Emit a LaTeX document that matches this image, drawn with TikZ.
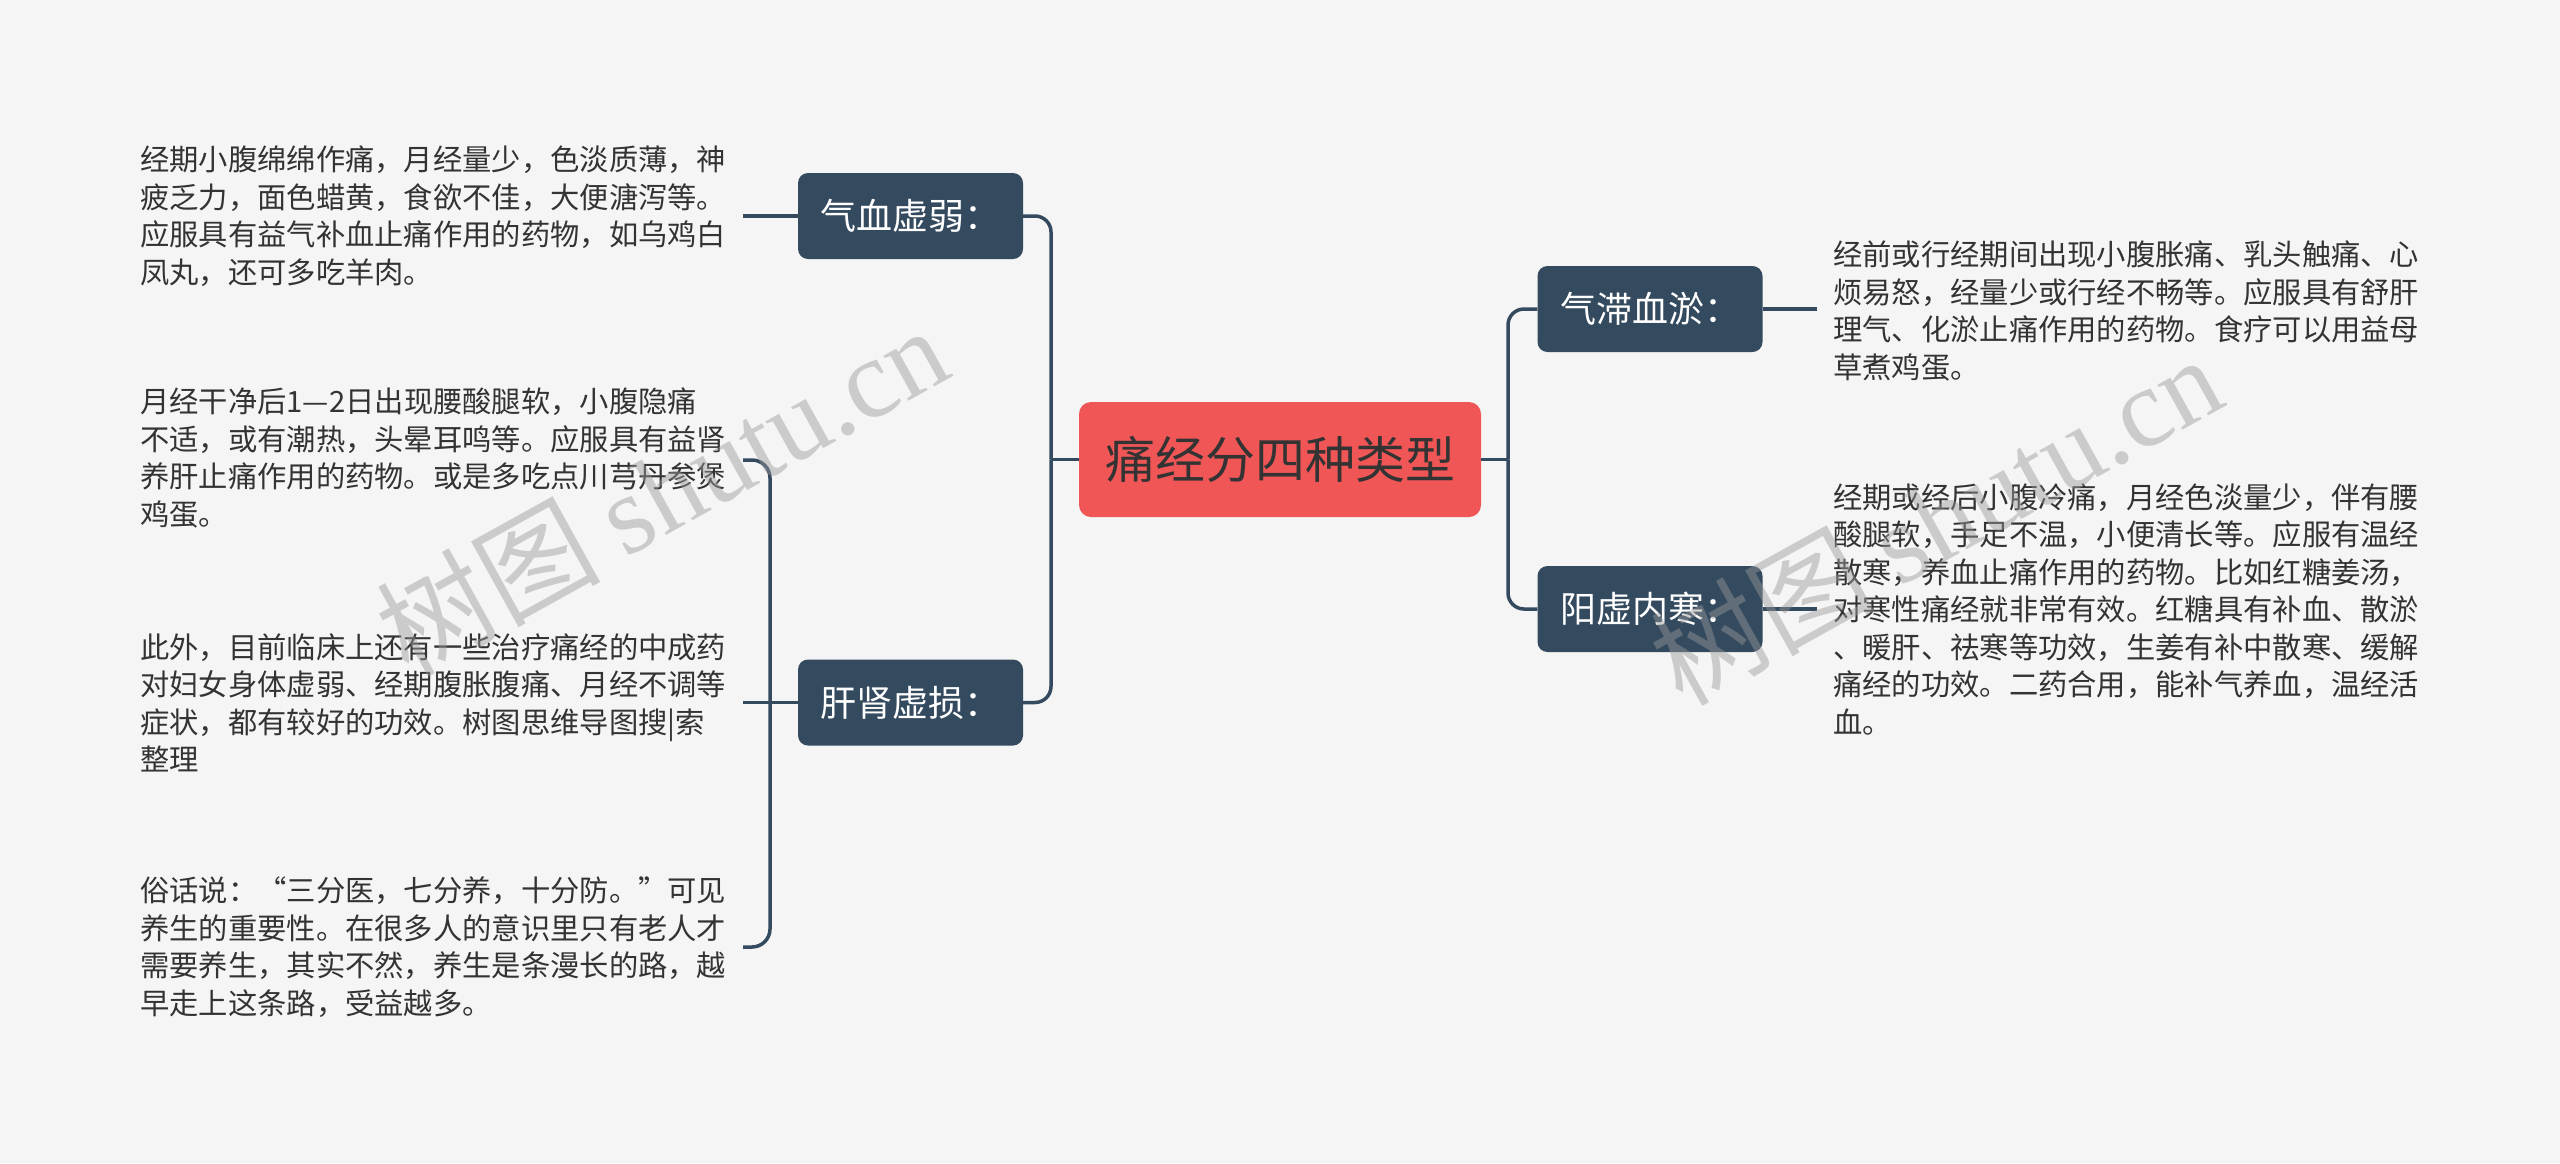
\documentclass[tikz,border=0pt]{standalone}
\usepackage{fontspec}
\setmainfont{Noto Sans CJK SC}
\newfontfamily\wmserif{Liberation Serif}
\definecolor{bgc}{HTML}{F5F5F5}
\definecolor{navy}{HTML}{344A5F}
\definecolor{rootred}{HTML}{F05656}
\definecolor{txt}{HTML}{333333}
\tikzset{
  conn/.style={draw=navy, line width=3.5pt},
  subbox/.style={rectangle, rounded corners=10pt, fill=navy, text=white,
    minimum width=225pt, minimum height=86pt, inner sep=0pt,
    font=\fontsize{36}{40}\selectfont},
  rootbox/.style={rectangle, rounded corners=12pt, fill=rootred, text=txt,
    minimum width=402pt, minimum height=115pt, inner sep=0pt,
    font=\fontsize{50}{56}\selectfont},
  leaf/.style={anchor=west, align=left, inner sep=0pt, text=txt,
    font=\fontsize{29.3}{37.5}\selectfont},
  wm/.style={text=black!40, opacity=0.45, inner sep=0pt,
    font=\fontsize{112}{120}\selectfont}
}
\begin{document}
\begin{tikzpicture}[x=1pt,y=-1pt]
\fill[bgc] (0,0) rectangle (2560,1163);
\useasboundingbox (0,0) rectangle (2560,1163);

% main nodes
\node[rootbox] (root) at (1280,459.5) {痛经分四种类型};
\node[subbox] (qx) at (910.5,216) {气血虚弱：};
\node[subbox] (gs) at (910.5,702.5) {肝肾虚损：};
\node[subbox] (qz) at (1650,309) {气滞血淤：};
\node[subbox] (yx) at (1650,609) {阳虚内寒：};

% leaf texts
\node[leaf] (t1) at (140,216) {经期小腹绵绵作痛，月经量少，色淡质薄，神\\疲乏力，面色蜡黄，食欲不佳，大便溏泻等。\\应服具有益气补血止痛作用的药物，如乌鸡白\\凤丸，还可多吃羊肉。};
\node[leaf] (t2) at (140,458) {月经干净后1—2日出现腰酸腿软，小腹隐痛\\不适，或有潮热，头晕耳鸣等。应服具有益肾\\养肝止痛作用的药物。或是多吃点川芎丹参煲\\鸡蛋。};
\node[leaf] (t3) at (140,703) {此外，目前临床上还有一些治疗痛经的中成药\\对妇女身体虚弱、经期腹胀腹痛、月经不调等\\症状，都有较好的功效。树图思维导图搜|索\\整理};
\node[leaf] (t4) at (140,947) {俗话说：“三分医，七分养，十分防。”可见\\养生的重要性。在很多人的意识里只有老人才\\需要养生，其实不然，养生是条漫长的路，越\\早走上这条路，受益越多。};
\node[leaf] (t5) at (1833,311) {经前或行经期间出现小腹胀痛、乳头触痛、心\\烦易怒，经量少或行经不畅等。应服具有舒肝\\理气、化淤止痛作用的药物。食疗可以用益母\\草煮鸡蛋。};
\node[leaf] (t6) at (1833,609) {经期或经后小腹冷痛，月经色淡量少，伴有腰\\酸腿软，手足不温，小便清长等。应服有温经\\散寒，养血止痛作用的药物。比如红糖姜汤，\\对寒性痛经就非常有效。红糖具有补血、散淤\\、暖肝、祛寒等功效，生姜有补中散寒、缓解\\痛经的功效。二药合用，能补气养血，温经活\\血。};

% junction coordinates
\coordinate (lj) at (1051,459.5);
\coordinate (rj) at (1508,459.5);
\coordinate (e1) at (743,216);
\coordinate (bj) at (770,702.5);
\coordinate (b1) at (743,460);
\coordinate (b2) at (743,702.5);
\coordinate (b3) at (743,947);
\coordinate (r1) at (1817,309);
\coordinate (r2) at (1817,609);

% connectors
\draw[conn] (root.west) -- (lj);
\draw[conn, rounded corners=16pt] (lj) |- (qx.east);
\draw[conn, rounded corners=16pt] (lj) |- (gs.east);
\draw[conn] (root.east) -- (rj);
\draw[conn, rounded corners=16pt] (rj) |- (qz.west);
\draw[conn, rounded corners=16pt] (rj) |- (yx.west);
\draw[conn] (qx.west) -- (e1);
\draw[conn] (gs.west) -- (b2);
\draw[conn, rounded corners=18pt] (b1) -| (bj) |- (b3);
\draw[conn] (qz.east) -- (r1);
\draw[conn] (yx.east) -- (r2);

% watermarks
\node[wm, rotate=29] (w1) at (661,490) {树图 {\wmserif shutu.cn}};
\node[wm, rotate=29] (w2) at (1935,519) {树图 {\wmserif shutu.cn}};
\end{tikzpicture}
\end{document}
